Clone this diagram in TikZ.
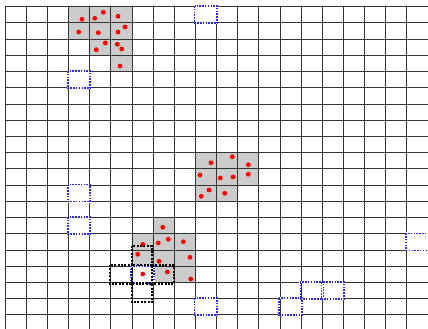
\documentclass[tikz,border=0pt]{standalone}
\usetikzlibrary{calc}
\definecolor{boxblue}{RGB}{40,40,235}
\definecolor{dotred}{RGB}{255,0,0}
\definecolor{cellgray}{RGB}{204,204,204}
\tikzset{
  gridline/.style={draw=black!80, line width=0.75pt},
  cellfill/.style={fill=cellgray},
  reddot/.style={fill=dotred},
  bluebox/.style={draw=boxblue, line width=1.6pt, dash pattern=on 1.5pt off 1.3pt,
     preaction={draw=white, line width=2.0pt, solid}},
  blackbox/.style={draw=black, line width=2.2pt, dash pattern=on 2pt off 1.4pt}
}
\begin{document}
\begin{tikzpicture}[x=1pt,y=-1pt]
\useasboundingbox (0,0) rectangle (428,329);
\fill[white] (0,0) rectangle (428,329);
\clip (0,0) rectangle (428,329);
% gray cells
\foreach \c/\r in {3/0,4/0,5/0,3/1,4/1,5/1,4/2,5/2,5/3,
                   9/9,10/9,11/9,9/10,10/10,11/10,9/11,10/11,
                   7/13,6/14,7/14,8/14,6/15,7/15,8/15,7/16,8/16}
  \fill[cellfill] ({5+21.15*\c},{6.5+16.23*\r}) rectangle ++(21.15,16.23);
% grid
\foreach \k in {0,...,20}
  \draw[gridline] ({5+21.15*\k},6.5) -- ({5+21.15*\k},340);
\foreach \k in {0,...,20}
  \draw[gridline] (5,{6.5+16.23*\k}) -- (440,{6.5+16.23*\k});
% red dots
\foreach \x/\y in {103.3/12.3,82/19.3,94.7/18.3,118/16.3,78.7/32,98.3/32.7,118/32,125/27,
                   105.3/43,96.3/49.7,117.3/44.3,121.7/49,120/66,
                   232.3/156.7,211/162.7,248.3/164.7,200/175,220.3/178,233/177,248.3/174.3,
                   209/190,201.3/196.3,224.7/193.3,
                   162.7/227.3,142.7/244.3,158.3/243,168.3/239.3,183.3/241.7,137.7/254.3,
                   159/261.3,190/257.3,142.7/274,167.3/272,190.7/279}
  \fill[reddot] (\x,\y) circle (2.4);
% blue dotted boxes
\foreach \c/\r in {9/0,3/4,3/11,3/13,9/18,19/14,13/18,14/17,15/17,6/16}
  \draw[bluebox] ({5+21.15*\c-0.7},{6.5+16.23*\r-0.4}) rectangle ++(22.5,17.0);
% black dotted boxes
\draw[blackbox] (132,246) rectangle (152,265);
\draw[blackbox] (110,265) rectangle (132,283.5);
\draw[blackbox] (152,265.5) rectangle (174,283.5);
\draw[blackbox] (132,283.5) rectangle (152,302);
\end{tikzpicture}
\end{document}
